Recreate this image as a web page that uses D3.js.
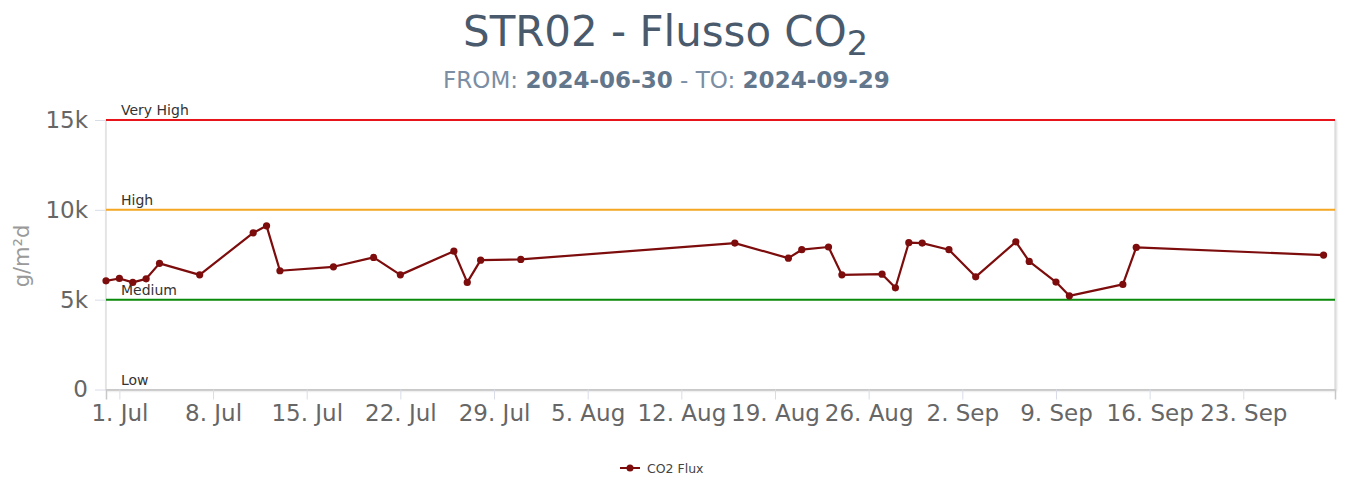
<!DOCTYPE html>
<html><head><meta charset="utf-8">
<script src="https://cdn.jsdelivr.net/npm/d3@7/dist/d3.min.js"></script>
<style>body{margin:0;background:#fff}svg{display:block}</style>
</head><body>
<svg id="c" width="1347" height="481"></svg>
<script>
// ---- data ----
const dates = ["2024-06-30","2024-07-01","2024-07-02","2024-07-03","2024-07-04","2024-07-07","2024-07-11","2024-07-12","2024-07-13","2024-07-17","2024-07-20","2024-07-22","2024-07-26","2024-07-27","2024-07-28","2024-07-31","2024-08-16","2024-08-20","2024-08-21","2024-08-23","2024-08-24","2024-08-27","2024-08-28","2024-08-29","2024-08-30","2024-09-01","2024-09-03","2024-09-06","2024-09-07","2024-09-09","2024-09-10","2024-09-14","2024-09-15","2024-09-29"];
const co2Flux = [6050,6180,5960,6160,7020,6380,8720,9110,6610,6830,7350,6380,7700,5960,7200,7240,8150,7310,7780,7930,6380,6420,5660,8170,8150,7780,6270,8220,7130,5980,5215,5850,7910,7480];
const yTickValues = [0,5000,10000,15000];
const thresholdNames = ["Low","Medium","High","Very High"];
const thresholdValues = [0,5000,10000,15000];
const xDomain = ["2024-06-30T00:00","2024-09-29T20:30"];
const seriesName = "CO2 Flux";
const titleMain = "STR02 - Flusso CO";
const titleSub = "2";
const fromDate = "2024-06-30", toDate = "2024-09-29";
const yAxisTitle = "g/m²d";

// ---- styles ----
const FONT = "DejaVu Sans";
const seriesColor = "#7d0c0c";
const thresholdColors = {"Low":"none","Medium":"#0a8a0a","High":"#f5a623","Very High":"#e8141b"};

const svg = d3.select("#c").style("font-family", FONT);
const parse = d3.utcParse("%Y-%m-%d");
const parseT = d3.utcParse("%Y-%m-%dT%H:%M");
const pts = dates.map((d,i)=>({date:parse(d), v:co2Flux[i]}));

const m = {left:106, right:1335, top:120, bottom:389.5};
const x = d3.scaleUtc().domain(xDomain.map(parseT)).range([m.left, m.right]);
const y = d3.scaleLinear().domain([0,15000]).range([m.bottom, m.top]);

function fit(sel, w){
  const n = sel.node(); const cur = parseFloat(sel.style("font-size"));
  const l = n.getComputedTextLength();
  sel.style("font-size", (cur*w/l)+"px");
}

// title
const t = svg.append("text").attr("x",665.5).attr("y",46).attr("text-anchor","middle")
  .style("font-size","34px").style("fill","#4a5a6d");
t.append("tspan").text(titleMain);
t.append("tspan").attr("dy","0.28em").style("font-size","0.8em").text(titleSub);
fit(t,405);

const st = svg.append("text").attr("x",666.5).attr("y",88).attr("text-anchor","middle")
  .style("font-size","20px").style("fill","#7b8ea3");
st.append("tspan").text("FROM: ");
st.append("tspan").style("font-weight","bold").style("fill","#62768c").text(fromDate);
st.append("tspan").text(" - TO: ");
st.append("tspan").style("font-weight","bold").style("fill","#62768c").text(toDate);
fit(st,447);

// plot background border with faint shadow
const defs = svg.append("defs");
const f = defs.append("filter").attr("id","sh").attr("x","-5%").attr("y","-5%").attr("width","110%").attr("height","115%");
f.append("feDropShadow").attr("dx",1).attr("dy",1).attr("stdDeviation",1.2).attr("flood-color","#000").attr("flood-opacity",0.18);
svg.append("rect").attr("x",m.left).attr("y",m.top).attr("width",m.right-m.left).attr("height",m.bottom-m.top)
  .attr("fill","#fff").attr("stroke","#cfcfcf").attr("stroke-width",1).attr("filter","url(#sh)");

// y axis
const yAxis = d3.axisLeft(y).tickValues(yTickValues).tickSize(11).tickPadding(7)
  .tickFormat(d=> d===0 ? "0" : (d/1000)+"k");
const gy = svg.append("g").attr("transform",`translate(${m.left},0)`).call(yAxis);
gy.select(".domain").remove();
gy.selectAll(".tick line").attr("stroke","#d8dce6");
gy.selectAll(".tick text").style("font-size","23px").style("fill","#666").style("font-family",FONT);

svg.append("text").attr("transform",`translate(29,256) rotate(-90)`).attr("text-anchor","middle")
  .style("font-size","21px").style("fill","#9a9a9a").text(yAxisTitle);

// x axis
const xAxis = d3.axisBottom(x).ticks(d3.utcMonday.every(1)).tickSize(10).tickPadding(5)
  .tickFormat(d3.utcFormat("%-d. %b"));
const gx = svg.append("g").attr("transform",`translate(0,${m.bottom})`).call(xAxis);
gx.select(".domain").attr("stroke","#c8c8c8").attr("stroke-width",1.5);
gx.selectAll(".tick line").attr("stroke","#d8dce6");
gx.selectAll(".tick text").style("font-size","23px").style("fill","#666").style("font-family",FONT);

// threshold lines
thresholdNames.forEach((n,i)=>{
  const yy = y(thresholdValues[i]);
  if(thresholdColors[n] !== "none"){
    svg.append("line").attr("x1",m.left).attr("x2",m.right).attr("y1",yy).attr("y2",yy)
      .attr("stroke",thresholdColors[n]).attr("stroke-width",2);
  }
  svg.append("text").attr("x",121).attr("y",yy-5).style("font-size","14px").style("fill","#333").text(n);
});

// series
const line = d3.line().x(d=>x(d.date)).y(d=>y(d.v));
svg.append("path").datum(pts).attr("d",line).attr("fill","none").attr("stroke",seriesColor).attr("stroke-width",2.2)
  .attr("stroke-linejoin","round");
svg.selectAll("circle.pt").data(pts).enter().append("circle").attr("class","pt")
  .attr("cx",d=>x(d.date)).attr("cy",d=>y(d.v)).attr("r",3.6).attr("fill",seriesColor);

// legend
const lg = svg.append("g").attr("transform","translate(620,468)");
lg.append("line").attr("x1",0).attr("x2",20).attr("y1",0).attr("y2",0).attr("stroke",seriesColor).attr("stroke-width",2);
lg.append("circle").attr("cx",10).attr("cy",0).attr("r",3.5).attr("fill",seriesColor);
lg.append("text").attr("x",27).attr("y",4.5).style("font-size","12.5px").style("fill","#444").text(seriesName);
</script>
</body></html>
